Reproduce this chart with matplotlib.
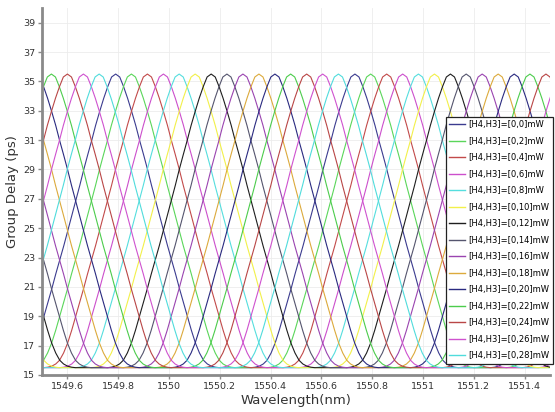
import numpy as np
import matplotlib
matplotlib.use("Agg")
import matplotlib.pyplot as plt
from matplotlib import font_manager

# ---- data ----
HEATER_MW = [0, 2, 4, 6, 8, 10, 12, 14, 16, 18, 20, 22, 24, 26, 28]
# wavelength of one delay peak of every curve (nm)
PEAK_WL = [1549.790, 1549.852, 1549.915, 1549.978, 1550.040, 1550.103,
           1550.166, 1550.228, 1550.291, 1550.354, 1550.417, 1550.479,
           1550.542, 1550.605, 1550.667]
FSR = 0.942   # peak-to-peak period of each curve (nm)

# half of one period of the delay curve: offset from peak (nm) -> delay (ps)
PROFILE_OFFSET = [0.000, 0.016, 0.031, 0.047, 0.063, 0.079, 0.094, 0.110,
                  0.126, 0.141, 0.157, 0.173, 0.189, 0.204, 0.220, 0.236,
                  0.251, 0.267, 0.283, 0.298, 0.314, 0.330, 0.346, 0.361,
                  0.377, 0.393, 0.408, 0.471]
PROFILE_DELAY = [35.50, 35.30, 34.65, 33.85, 32.95, 32.00, 31.00, 30.00,
                 28.97, 27.93, 26.90, 25.85, 24.80, 23.82, 22.84, 21.87,
                 20.90, 19.93, 18.97, 18.05, 17.18, 16.50, 16.00, 15.75,
                 15.60, 15.53, 15.50, 15.50]

COLORS = ['#3b3b8f', '#5ad65a', '#c24a4a', '#cc4fcc', '#55dede',
          '#f2f04a', '#1e1e1e', '#55556e', '#9a44b0', '#dcaa3c',
          '#2a2a80', '#4ccc4c', '#b94646', '#cf52cf', '#50dcdc']

X_TICKS = [1549.6, 1549.8, 1550, 1550.2, 1550.4, 1550.6, 1550.8, 1551, 1551.2, 1551.4]
Y_TICKS = list(range(15, 40, 2))

# ---- fonts ----
avail = {f.name for f in font_manager.fontManager.ttflist}
narrow = 'Liberation Sans Narrow' if 'Liberation Sans Narrow' in avail else 'DejaVu Sans'
plt.rcParams['font.family'] = narrow

fig = plt.figure(figsize=(5.55, 4.12), dpi=100)
ax = fig.add_axes([42/555, 37/412, 508/555, 367/412])

# one period: mirrored half profile
off = np.array(PROFILE_OFFSET)
dly = np.array(PROFILE_DELAY)
per_x = np.concatenate([-off[::-1], off[1:]])
per_y = np.concatenate([dly[::-1], dly[1:]])

for p, wl, c in zip(HEATER_MW, PEAK_WL, COLORS):
    xs, ys = [], []
    for m in range(-2, 3):
        xs.append(per_x + wl + m * FSR)
        ys.append(per_y)
    ax.plot(np.concatenate(xs), np.concatenate(ys), color=c, lw=0.8,
            label=f'[H4,H3]=[0,{p}]mW')

ax.set_xlim(1549.5, 1551.5)
ax.set_ylim(15, 40)
ax.set_xticks(X_TICKS)
ax.set_xticklabels([f'{t:g}' for t in X_TICKS])
ax.set_yticks(Y_TICKS)
ax.grid(True, color='#ececec', lw=0.6)
ax.set_axisbelow(True)

for s in ['top', 'right']:
    ax.spines[s].set_visible(False)
for s in ['left', 'bottom']:
    ax.spines[s].set_color('#8a8a8a')
    ax.spines[s].set_linewidth(2)
ax.tick_params(colors='#8a8a8a', length=3, width=1, labelcolor='#333333',
               labelsize=6.8, pad=2)

ax.set_xlabel('Wavelength(nm)', fontsize=9.5, color='#333333', labelpad=2)
ax.set_ylabel('Group Delay (ps)', fontsize=9.5, color='#333333', labelpad=3)

leg = ax.legend(loc='upper right', bbox_to_anchor=(1.006, 0.703),
                borderaxespad=0, fontsize=6, handlelength=1.9,
                handletextpad=0.4, labelspacing=0.9, borderpad=0.4,
                fancybox=False, framealpha=1)
leg.get_frame().set_edgecolor('#222222')
leg.get_frame().set_linewidth(0.9)
for line in leg.get_lines():
    line.set_linewidth(1.0)

fig.savefig('out.png', dpi=100)
